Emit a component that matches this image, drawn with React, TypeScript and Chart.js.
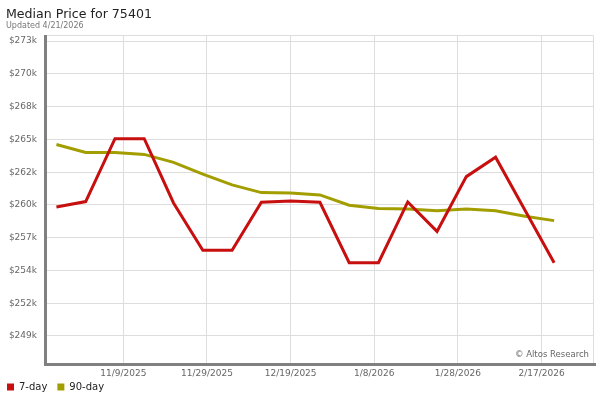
import React, { useEffect, useRef } from "react";
import { Chart, registerables } from "chart.js";

Chart.register(...registerables);

// ---- data ----
const weekDates = [
  "2025-10-24", "2025-10-31", "2025-11-07", "2025-11-14", "2025-11-21", "2025-11-28",
  "2025-12-05", "2025-12-12", "2025-12-19", "2025-12-26", "2026-01-02", "2026-01-09",
  "2026-01-16", "2026-01-23", "2026-01-30", "2026-02-06", "2026-02-13", "2026-02-20",
];
const sevenDay = [
  259500, 259940, 265060, 265060, 259830, 255970, 255970, 259880, 259990,
  259880, 254960, 254960, 259910, 257510, 261970, 263550, 259260, 254960,
];
const ninetyDay = [
  264590, 263940, 263930, 263780, 263130, 262170, 261300, 260670, 260640,
  260480, 259640, 259370, 259340, 259200, 259340, 259200, 258740, 258390,
];
const yTickValues = [249000, 251667, 254333, 257000, 259667, 262333, 265000, 267667, 270333, 273000];
const xTickDates = ["2025-11-09", "2025-11-29", "2025-12-19", "2026-01-08", "2026-01-28", "2026-02-17"];
const xRange = ["2025-10-21T18:00:00Z", "2026-03-01T07:00:00Z"];
const yRange = [246800, 273500];
const seriesNames = ["7-day", "90-day"];
const seriesColors = ["#c80f0f", "#a39e00"];
const titleText = "Median Price for 75401";
const subtitleText = "Updated 4/21/2026";
const watermarkText = "\u00A9 Altos Research";

const FONT = "'DejaVu Sans', Verdana, sans-serif";
const DAY = 86400000;
const toDay = (s: string) => Date.parse(s.length === 10 ? s + "T00:00:00Z" : s) / DAY;
const fmtDate = (d: number) => {
  const dt = new Date(Math.round(d) * DAY);
  return `${dt.getUTCMonth() + 1}/${dt.getUTCDate()}/${dt.getUTCFullYear()}`;
};

const decorPlugin = {
  id: "decor",
  afterLayout(chart: any) {
    // pull the legend row up so it sits close under the axis labels
    if (chart.legend) {
      chart.legend.top -= 8;
      chart.legend.bottom -= 8;
    }
  },
  afterDatasetsDraw(chart: any) {
    const { ctx, chartArea: a } = chart;
    ctx.save();
    ctx.strokeStyle = "#dddddd";
    ctx.lineWidth = 1;
    ctx.beginPath();
    ctx.moveTo(a.left, a.top + 0.5);
    ctx.lineTo(a.right + 0.5, a.top + 0.5);
    ctx.lineTo(a.right + 0.5, a.bottom);
    ctx.stroke();
    ctx.fillStyle = "#808080";
    ctx.fillRect(a.left - 3, a.top, 3, a.bottom - a.top + 3);
    ctx.fillRect(a.left - 3, a.bottom, a.right - a.left + 6, 3);
    ctx.fillStyle = "#666666";
    ctx.font = `8.5px ${FONT}`;
    ctx.textAlign = "right";
    ctx.textBaseline = "alphabetic";
    ctx.fillText(watermarkText, a.right - 4, a.bottom - 6);
    ctx.restore();
  },
  afterDraw(chart: any) {
    const { ctx } = chart;
    ctx.save();
    ctx.textAlign = "left";
    ctx.textBaseline = "alphabetic";
    ctx.fillStyle = "#222222";
    ctx.font = `12.6px ${FONT}`;
    ctx.fillText(titleText, 6, 18);
    ctx.fillStyle = "#777777";
    ctx.font = `8px ${FONT}`;
    ctx.fillText(subtitleText, 6, 28);
    ctx.restore();
  },
};

export default function App() {
  const ref = useRef<HTMLCanvasElement | null>(null);

  useEffect(() => {
    if (!ref.current) return;
    const xs = weekDates.map(toDay);
    const chart = new Chart(ref.current, {
      type: "line",
      data: {
        datasets: [
          {
            label: seriesNames[0],
            data: sevenDay.map((v, i) => ({ x: xs[i], y: v })),
            borderColor: seriesColors[0],
            backgroundColor: seriesColors[0],
            borderWidth: 3,
            pointRadius: 0,
            tension: 0,
          },
          {
            label: seriesNames[1],
            data: ninetyDay.map((v, i) => ({ x: xs[i], y: v })),
            borderColor: seriesColors[1],
            backgroundColor: seriesColors[1],
            borderWidth: 3,
            pointRadius: 0,
            tension: 0,
          },
        ],
      },
      options: {
        animation: false,
        responsive: false,
        events: [],
        layout: { padding: { left: -3, right: 7, top: 35, bottom: 0 } },
        plugins: {
          title: { display: false },
          tooltip: { enabled: false },
          legend: {
            display: true,
            position: "bottom",
            align: "start",
            maxHeight: 20,
            labels: {
              boxWidth: 7,
              boxHeight: 7,
              padding: 10,
              color: "#222222",
              font: { family: FONT, size: 10 },
              generateLabels(c: any) {
                const items = Chart.defaults.plugins.legend.labels.generateLabels(c);
                return items.map((it: any) => ({ ...it, lineWidth: 0 }));
              },
            },
          },
        },
        scales: {
          x: {
            type: "linear",
            min: toDay(xRange[0]),
            max: toDay(xRange[1]),
            afterBuildTicks(scale: any) {
              scale.ticks = xTickDates.map((d) => ({ value: toDay(d) }));
            },
            afterFit(scale: any) {
              scale.height = 17;
            },
            grid: { color: "#dddddd", drawTicks: false },
            border: { display: false },
            ticks: {
              padding: 5,
              maxRotation: 0,
              autoSkip: false,
              color: "#666666",
              font: { family: FONT, size: 9 },
              callback: (v: any) => fmtDate(Number(v)),
            },
          },
          y: {
            type: "linear",
            min: yRange[0],
            max: yRange[1],
            afterBuildTicks(scale: any) {
              scale.ticks = yTickValues.map((v) => ({ value: v }));
            },
            afterFit(scale: any) {
              scale.width = 50;
            },
            grid: { color: "#dddddd", drawTicks: false },
            border: { display: false },
            ticks: {
              padding: 10,
              color: "#666666",
              font: { family: FONT, size: 9 },
              callback: (v: any) => "$" + Math.round(Number(v) / 1000) + "k",
            },
          },
        },
      },
      plugins: [decorPlugin],
    } as any);
    return () => chart.destroy();
  }, []);

  return (
    <div style={{ position: "absolute", left: 0, top: 0, width: 600, height: 400, background: "#fff" }}>
      <canvas ref={ref} width={600} height={400} />
    </div>
  );
}
